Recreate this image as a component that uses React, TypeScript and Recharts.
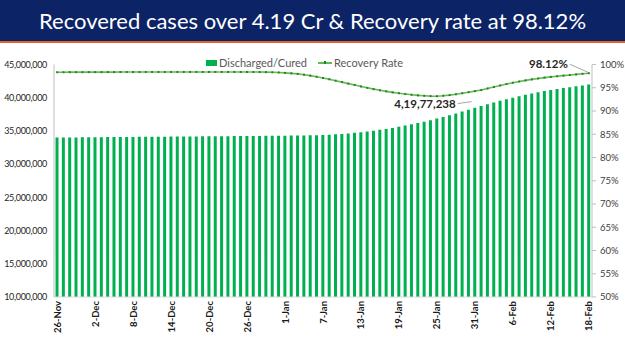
import React from 'react';
import { ComposedChart, Bar, Line, XAxis, YAxis, LabelList } from 'recharts';

const dates = [
  '26-Nov','27-Nov','28-Nov','29-Nov','30-Nov',
  '1-Dec','2-Dec','3-Dec','4-Dec','5-Dec','6-Dec','7-Dec','8-Dec','9-Dec','10-Dec','11-Dec','12-Dec','13-Dec','14-Dec','15-Dec','16-Dec','17-Dec','18-Dec','19-Dec','20-Dec','21-Dec','22-Dec','23-Dec','24-Dec','25-Dec','26-Dec','27-Dec','28-Dec','29-Dec','30-Dec','31-Dec',
  '1-Jan','2-Jan','3-Jan','4-Jan','5-Jan','6-Jan','7-Jan','8-Jan','9-Jan','10-Jan','11-Jan','12-Jan','13-Jan','14-Jan','15-Jan','16-Jan','17-Jan','18-Jan','19-Jan','20-Jan','21-Jan','22-Jan','23-Jan','24-Jan','25-Jan','26-Jan','27-Jan','28-Jan','29-Jan','30-Jan','31-Jan',
  '1-Feb','2-Feb','3-Feb','4-Feb','5-Feb','6-Feb','7-Feb','8-Feb','9-Feb','10-Feb','11-Feb','12-Feb','13-Feb','14-Feb','15-Feb','16-Feb','17-Feb','18-Feb'
];

// Discharged/Cured (cumulative)
const discharged = [
  33998278, 34008000, 34017000, 34026000, 34036000,
  34045000, 34054000, 34063000, 34072000, 34081000, 34089000, 34096000, 34104000, 34111000, 34119000, 34127000, 34134000, 34142000, 34150000, 34157000, 34164000, 34172000, 34179000, 34186000, 34193000, 34200000, 34207000, 34214000, 34222000, 34229000, 34236000, 34243000, 34251000, 34258000, 34266000, 34275000,
  34284000, 34295000, 34308000, 34324000, 34343000, 34368000, 34400000, 34441000, 34492000, 34552000, 34624000, 34709000, 34800000, 34910000, 35030000, 35160000, 35300000, 35450000, 35620000, 35800000, 35990000, 36190000, 36400000, 36620000, 36860000, 37110000, 37370000, 37640000, 37920000, 38200000, 38480000,
  38750000, 39020000, 39280000, 39530000, 39770000, 40000000, 40220000, 40430000, 40630000, 40820000, 41000000, 41160000, 41310000, 41450000, 41580000, 41710000, 41840000, 41977238
];

// Recovery Rate (%)
const recoveryRate = [
  98.33, 98.34, 98.35, 98.35, 98.35,
  98.36, 98.36, 98.36, 98.37, 98.37, 98.38, 98.38, 98.38, 98.38, 98.39, 98.39, 98.39, 98.39, 98.4, 98.4, 98.4, 98.4, 98.4, 98.4, 98.4, 98.4, 98.4, 98.4, 98.4, 98.4, 98.4, 98.39, 98.38, 98.36, 98.33, 98.28,
  98.2, 98.1, 97.98, 97.81, 97.6, 97.36, 97.1, 96.82, 96.52, 96.21, 95.89, 95.59, 95.28, 94.98, 94.7, 94.45, 94.22, 94.01, 93.82, 93.65, 93.5, 93.37, 93.27, 93.2, 93.18, 93.28, 93.42, 93.6, 93.82, 94.05, 94.28,
  94.5, 94.85, 95.18, 95.5, 95.8, 96.08, 96.34, 96.58, 96.8, 97.0, 97.18, 97.34, 97.48, 97.61, 97.74, 97.87, 98.0, 98.12
];

const leftTicks = [10000000, 15000000, 20000000, 25000000, 30000000, 35000000, 40000000, 45000000];
const rightTicks = [50, 55, 60, 65, 70, 75, 80, 85, 90, 95, 100];

const title = 'Recovered cases over 4.19 Cr & Recovery rate at 98.12%';

const data = dates.map((d, i) => ({ date: d, discharged: discharged[i], rate: recoveryRate[i] }));
const last = data.length - 1;

const FONT = 'Lato, "Open Sans", sans-serif';
const BAR = '#00b050';
const LINE = '#62bd4f';

const XTick = (props: any) => {
  const { x, y, payload } = props;
  return (
    <text
      transform={`translate(${x + 3.5},${y - 4}) rotate(-90)`}
      textAnchor="end"
      fontSize={9.5}
      fontWeight={700}
      fontFamily={FONT}
      fill="#1a1a1a"
    >
      {payload.value}
    </text>
  );
};

const BarLabel = (props: any) => {
  const { x, y, width, index, value } = props;
  if (index !== last) return null;
  const cx = x + width / 2;
  return (
    <g>
      <line x1={cx - 131} y1={y + 19} x2={cx - 117} y2={y + 17} stroke="#a6a6a6" strokeWidth={1} />
      <text x={cx - 133} y={y + 23} textAnchor="end" fontSize={11.5} fontWeight={700} fontFamily={FONT} fill="#262626">
        {Number(value).toLocaleString('en-IN')}
      </text>
    </g>
  );
};

const LineLabel = (props: any) => {
  const { x, y, index, value } = props;
  if (index !== last) return null;
  return (
    <g>
      <line x1={x - 19} y1={y - 9} x2={x - 1} y2={y - 1} stroke="#a6a6a6" strokeWidth={1} />
      <text x={x - 21} y={y - 5} textAnchor="end" fontSize={11.5} fontWeight={700} fontFamily={FONT} fill="#262626">
        {`${Number(value).toFixed(2)}%`}
      </text>
    </g>
  );
};

const Dot = (props: any) => {
  const { cx, cy, index } = props;
  return <rect key={index} x={cx - 1} y={cy - 1} width={2} height={2} fill="#2e7d32" />;
};

export default function App() {
  return (
    <div style={{ position: 'absolute', left: 0, top: 0, width: 625, height: 351, background: '#fff', overflow: 'hidden' }}>
      <div
        style={{
          position: 'absolute', left: 0, top: 0, width: 625, height: 41,
          background: '#0c2366', borderBottom: '2px solid #e0642a',
          color: '#fff', fontFamily: FONT, fontSize: 22, fontWeight: 400,
          display: 'flex', alignItems: 'center', justifyContent: 'center', letterSpacing: 0,
        }}
      >
        {title}
      </div>
      <div style={{ position: 'absolute', left: 0, top: 0 }}>
        <ComposedChart width={625} height={351} data={data} margin={{ top: 64.5, right: 0, bottom: 0, left: 0 }} barCategoryGap="24%">
          <XAxis
            dataKey="date"
            interval={5}
            tick={<XTick />}
            tickLine={false}
            axisLine={{ stroke: '#d9d9d9' }}
            height={54}
          />
          <YAxis
            yAxisId="left"
            domain={[10000000, 45000000]}
            ticks={leftTicks}
            width={54}
            tickLine={false}
            tickSize={4}
            tickMargin={3}
            axisLine={{ stroke: '#bfbfbf' }}
            tick={{ fontSize: 9, fontFamily: FONT, fill: '#262626', letterSpacing: -0.3 }}
            tickFormatter={(v: number) => v.toLocaleString('en-US')}
            allowDataOverflow
          />
          <YAxis
            yAxisId="right"
            orientation="right"
            domain={[50, 100]}
            ticks={rightTicks}
            width={33}
            tickSize={4}
            tickMargin={4}
            tickLine={{ stroke: '#bfbfbf' }}
            axisLine={{ stroke: '#bfbfbf' }}
            tick={{ fontSize: 9.5, fontFamily: FONT, fill: '#404040' }}
            tickFormatter={(v: number) => `${v}%`}
          />
          <Bar yAxisId="left" dataKey="discharged" fill={BAR} isAnimationActive={false}>
            <LabelList dataKey="discharged" content={<BarLabel />} />
          </Bar>
          <Line
            yAxisId="right"
            dataKey="rate"
            stroke={LINE}
            strokeWidth={1.6}
            dot={<Dot />}
            type="linear"
            isAnimationActive={false}
          >
            <LabelList dataKey="rate" content={<LineLabel />} />
          </Line>
        </ComposedChart>
      </div>
      <div
        style={{
          position: 'absolute', left: 206, top: 55, height: 15, display: 'flex', alignItems: 'center',
          fontFamily: FONT, fontSize: 11, color: '#595959', whiteSpace: 'nowrap',
        }}
      >
        <span style={{ display: 'inline-block', width: 11, height: 6, background: BAR, marginRight: 2 }} />
        <span>Discharged/Cured</span>
        <span style={{ display: 'inline-block', width: 14, height: 2, background: LINE, marginLeft: 11, marginRight: 2, position: 'relative' }}>
          <span style={{ position: 'absolute', left: 6, top: -0.5, width: 2, height: 3, background: '#2e7d32' }} />
        </span>
        <span>Recovery Rate</span>
      </div>
    </div>
  );
}
